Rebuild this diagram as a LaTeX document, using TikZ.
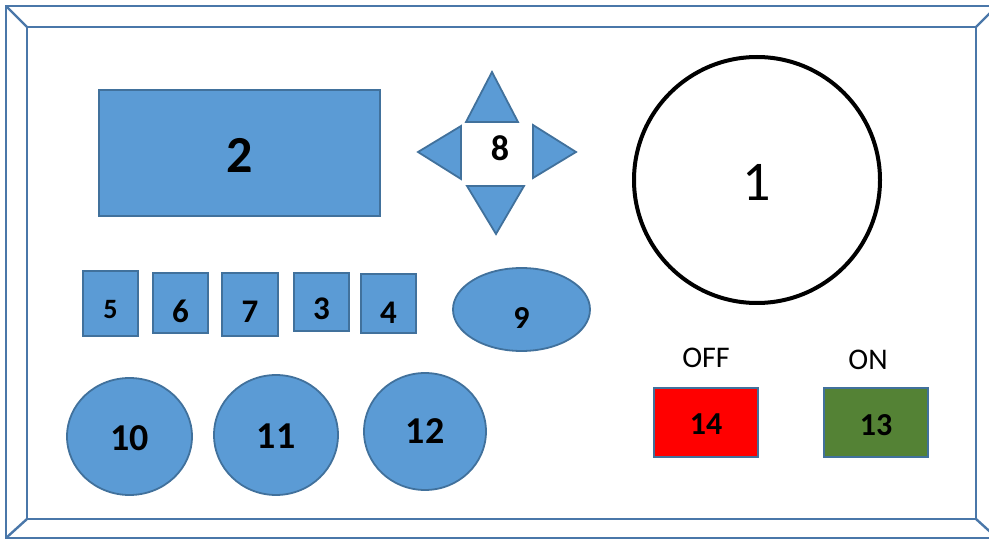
\documentclass[tikz,border=0pt]{standalone}
\usepackage{fontspec}
\setmainfont{Carlito}
\usepackage{tikz}
\usetikzlibrary{shapes.geometric}

\definecolor{keyfill}{HTML}{5B9BD5}
\definecolor{keyline}{HTML}{41719C}
\definecolor{frameline}{HTML}{4A77A9}
\definecolor{offred}{HTML}{FF0000}
\definecolor{ongreen}{HTML}{548235}

\newcommand{\fsz}[1]{\fontsize{#1}{#1}\selectfont}
\newcommand{\dropby}[2]{\raisebox{-#1}[\height][\depth]{#2}}

\begin{document}
\begin{tikzpicture}[x = 1pt, y = -1pt, every node/.style={inner sep = 0pt},
  key/.style={draw = keyline, fill = keyfill, line width = 1.8pt, font = \bfseries},
  switch/.style={draw = keyline, line width = 1.8pt, font = \fsz{32}\bfseries}]

  \useasboundingbox (0, 0) rectangle (989, 540);

  % frame
  \draw [frameline, line width = 2.4pt] (6, 6) rectangle (997, 538);
  \draw [frameline, line width = 2.4pt] (27, 27) rectangle (976, 519);
  \draw [frameline, line width = 2.4pt] (6, 6) -- (27, 27);
  \draw [frameline, line width = 2.4pt] (997, 6) -- (976, 27);
  \draw [frameline, line width = 2.4pt] (6, 538) -- (27, 519);
  \draw [frameline, line width = 2.4pt] (997, 538) -- (976, 519);

  % display
  \node [key, minimum width = 281, minimum height = 126, font = \fsz{52}\bfseries] (key2) at (239.5, 153) {\dropby{2pt}{2}};

  % arrow pad
  \draw [key] (466, 122) -- (492, 72) -- (518, 122) -- cycle;
  \draw [key] (461, 126) -- (418, 152) -- (461, 179) -- cycle;
  \draw [key] (533, 125) -- (576, 152) -- (533, 178) -- cycle;
  \draw [key] (467, 186) -- (496, 234) -- (524, 186) -- cycle;
  \node [font = \fsz{36}\bfseries] (key8) at (500, 148) {8};

  % dial
  \node [circle, draw = black, line width = 4pt, minimum size = 246, font = \fsz{56}] (key1) at (757, 180) {\dropby{2pt}{1}};

  % small keys
  \node [key, minimum width = 55, minimum height = 65, font = \fsz{28}\bfseries] (key5) at (110.5, 303.5) {\dropby{6pt}{5}};
  \node [key, minimum width = 55, minimum height = 60, font = \fsz{33}\bfseries] (key6) at (180.5, 303) {\dropby{8pt}{6}};
  \node [key, minimum width = 56, minimum height = 63, font = \fsz{33}\bfseries] (key7) at (250, 304.5) {\dropby{7pt}{7}};
  \node [key, minimum width = 55, minimum height = 58, font = \fsz{33}\bfseries] (key3) at (321.5, 302) {\dropby{7pt}{3}};
  \node [key, minimum width = 55, minimum height = 59, font = \fsz{33}\bfseries] (key4) at (388.5, 303.5) {\dropby{9pt}{4}};

  \node [key, ellipse, minimum width = 137, minimum height = 83, font = \fsz{32}\bfseries] (key9) at (521.5, 309.5) {\dropby{9pt}{9}};

  % round keys
  \node [key, ellipse, minimum width = 125, minimum height = 117, font = \fsz{38}\bfseries] (key10) at (129.5, 436.5) {\dropby{2pt}{10}};
  \node [key, ellipse, minimum width = 124, minimum height = 120, font = \fsz{38}\bfseries] (key11) at (276, 435) {\dropby{1pt}{11}};
  \node [key, ellipse, minimum width = 122, minimum height = 117, font = \fsz{38}\bfseries] (key12) at (425, 431.5) {12};

  % power switches
  \node [switch, fill = offred, minimum width = 104, minimum height = 69] (key14) at (706, 422.5) {\dropby{2pt}{14}};
  \node [switch, fill = ongreen, minimum width = 104, minimum height = 69] (key13) at (876, 422.5) {\dropby{3pt}{13}};

  \node [font = \fsz{30}] (off) at (706, 358) {OFF};
  \node [font = \fsz{30}] (on) at (868, 360) {ON};

\end{tikzpicture}
\end{document}
